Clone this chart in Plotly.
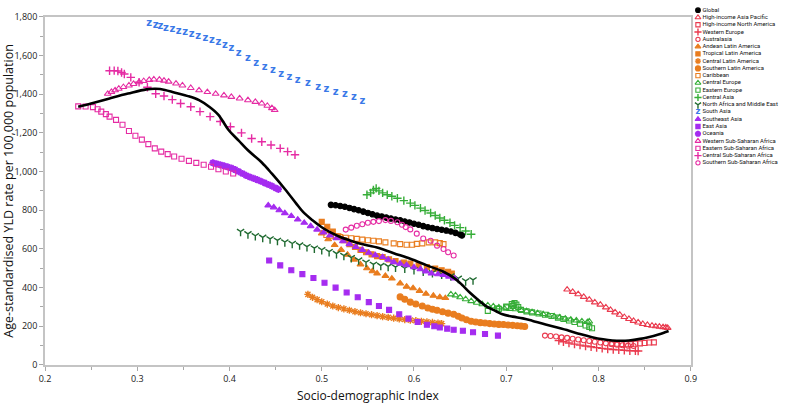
import plotly.graph_objects as go

# ---------------- data ----------------
legend_names = [
    "Global", "High-income Asia Pacific", "High-income North America", "Western Europe",
    "Australasia", "Andean Latin America", "Tropical Latin America", "Central Latin America",
    "Southern Latin America", "Caribbean", "Central Europe", "Eastern Europe", "Central Asia",
    "North Africa and Middle East", "South Asia", "Southeast Asia", "East Asia", "Oceania",
    "Western Sub-Saharan Africa", "Eastern Sub-Saharan Africa", "Central Sub-Saharan Africa",
    "Southern Sub-Saharan Africa",
]

global_sdi = [0.510, 0.515, 0.520, 0.525, 0.530, 0.535, 0.540, 0.545, 0.550, 0.555, 0.560, 0.565, 0.570,
              0.575, 0.580, 0.585, 0.590, 0.595, 0.600, 0.605, 0.610, 0.615, 0.620, 0.625, 0.630, 0.635,
              0.640, 0.645, 0.650, 0.652]
global_rate = [828, 826, 822, 818, 812, 806, 800, 793, 786, 779, 772, 768, 762, 757, 752, 748, 742, 737,
               730, 725, 718, 712, 708, 703, 699, 695, 690, 683, 675, 670]

hiap_sdi = [0.766, 0.772, 0.778, 0.784, 0.790, 0.796, 0.802, 0.808, 0.813, 0.818, 0.823, 0.828, 0.833,
            0.838, 0.843, 0.848, 0.853, 0.858, 0.862, 0.866, 0.870, 0.873, 0.875]
hiap_rate = [390, 378, 366, 352, 338, 324, 312, 298, 285, 272, 260, 248, 238, 228, 220, 212, 207, 203,
             200, 198, 196, 194, 192]

hina_sdi = [0.815, 0.820, 0.825, 0.830, 0.835, 0.840, 0.845, 0.850, 0.855, 0.860]
hina_rate = [112, 110, 108, 107, 108, 110, 112, 114, 116, 117]

weur_sdi = [0.757, 0.762, 0.768, 0.774, 0.780, 0.786, 0.792, 0.798, 0.804, 0.810, 0.816, 0.822, 0.828,
            0.834, 0.840, 0.843]
weur_rate = [126, 120, 114, 108, 103, 98, 94, 90, 86, 83, 80, 78, 76, 74, 73, 72]

austral_sdi = [0.742, 0.748, 0.754, 0.760, 0.766, 0.772, 0.778, 0.784, 0.790, 0.796, 0.802, 0.808,
               0.814, 0.820, 0.826, 0.832, 0.838]
austral_rate = [152, 150, 147, 143, 140, 136, 132, 128, 124, 120, 116, 112, 108, 105, 102, 100, 98]

andean_sdi = [0.500, 0.507, 0.514, 0.521, 0.528, 0.535, 0.542, 0.549, 0.555, 0.560, 0.569, 0.576, 0.585,
              0.592, 0.599, 0.606, 0.613, 0.621, 0.628, 0.634]
andean_rate = [680, 650, 620, 595, 570, 545, 520, 500, 485, 473, 461, 447, 422, 405, 397, 383, 368, 358,
               351, 346]

tropical_sdi = [0.500, 0.506, 0.512, 0.518, 0.524, 0.530, 0.536, 0.542, 0.548, 0.554, 0.560, 0.566, 0.573,
                0.580, 0.589, 0.596, 0.605, 0.614, 0.623, 0.630, 0.637, 0.641]
tropical_rate = [740, 715, 690, 665, 645, 625, 610, 595, 583, 572, 563, 558, 546, 537, 529, 524, 515, 507,
                 498, 490, 482, 473]

central_la_sdi = [0.485, 0.490, 0.495, 0.500, 0.506, 0.512, 0.518, 0.524, 0.530, 0.536, 0.542, 0.548,
                  0.554, 0.560, 0.566, 0.572, 0.578, 0.584, 0.590, 0.596, 0.602, 0.608, 0.614, 0.620,
                  0.626, 0.630]
central_la_rate = [365, 350, 338, 327, 315, 305, 297, 290, 283, 276, 270, 265, 260, 255, 250, 246, 242,
                   238, 235, 232, 229, 226, 223, 220, 217, 214]

southern_la_sdi = [0.585, 0.590, 0.596, 0.602, 0.609, 0.615, 0.620, 0.625, 0.631, 0.637, 0.643, 0.648,
                   0.652, 0.657, 0.662, 0.667, 0.672, 0.677, 0.682, 0.687, 0.692, 0.697, 0.702, 0.707,
                   0.712, 0.716, 0.720]
southern_la_rate = [352, 340, 325, 315, 305, 295, 288, 283, 275, 268, 262, 252, 243, 234, 226, 222, 219,
                    217, 214, 212, 210, 209, 207, 205, 203, 201, 199]

caribbean_sdi = [0.505, 0.510, 0.515, 0.520, 0.526, 0.532, 0.538, 0.544, 0.550, 0.556, 0.562, 0.569,
                 0.578, 0.585, 0.592, 0.598, 0.603, 0.609, 0.616, 0.623, 0.628, 0.632]
caribbean_rate = [672, 668, 665, 662, 658, 655, 652, 648, 645, 642, 639, 634, 629, 625, 622, 622, 626,
                  629, 634, 634, 630, 625]

ceur_sdi = [0.640, 0.645, 0.650, 0.656, 0.662, 0.668, 0.674, 0.680, 0.686, 0.692, 0.698, 0.704, 0.710,
            0.716, 0.722, 0.728, 0.734, 0.740, 0.746, 0.752, 0.758, 0.764, 0.770, 0.776, 0.782, 0.788,
            0.790]
ceur_rate = [365, 360, 350, 340, 330, 322, 314, 308, 303, 298, 292, 290, 288, 284, 278, 273, 268, 263,
             257, 251, 246, 240, 235, 230, 226, 222, 225]

eeur_sdi = [0.706, 0.709, 0.711, 0.707, 0.700, 0.692, 0.680, 0.690, 0.700, 0.708, 0.713, 0.716, 0.722,
            0.728, 0.735, 0.742, 0.749, 0.756, 0.762, 0.768, 0.774, 0.780, 0.786, 0.790, 0.793]
eeur_rate = [315, 320, 312, 305, 298, 290, 280, 292, 302, 308, 300, 285, 277, 272, 266, 260, 253, 245,
             238, 230, 222, 213, 204, 197, 190]

casia_sdi = [0.549, 0.553, 0.556, 0.559, 0.562, 0.566, 0.571, 0.576, 0.582, 0.589, 0.596, 0.601, 0.607,
             0.612, 0.618, 0.623, 0.628, 0.633, 0.639, 0.644, 0.650, 0.656, 0.662]
casia_rate = [880, 890, 905, 913, 900, 890, 880, 872, 862, 850, 837, 825, 811, 799, 786, 773, 760, 748,
              735, 722, 710, 693, 676]

name_sdi = [0.412, 0.420, 0.428, 0.436, 0.444, 0.452, 0.460, 0.468, 0.476, 0.484, 0.492, 0.500, 0.508,
            0.516, 0.524, 0.532, 0.540, 0.548, 0.556, 0.564, 0.572, 0.580, 0.590, 0.600, 0.610, 0.620,
            0.630, 0.640, 0.648, 0.656, 0.664]
name_rate = [690, 678, 668, 660, 652, 644, 636, 628, 620, 612, 604, 596, 586, 576, 566, 555, 543, 531,
             520, 514, 510, 506, 500, 493, 485, 477, 470, 460, 448, 435, 440]

sasia_sdi = [0.313, 0.320, 0.325, 0.331, 0.338, 0.345, 0.352, 0.359, 0.366, 0.374, 0.381, 0.388, 0.395,
             0.402, 0.410, 0.420, 0.429, 0.438, 0.447, 0.456, 0.465, 0.474, 0.485, 0.496, 0.505, 0.515,
             0.525, 0.535, 0.544]
sasia_rate = [1766, 1757, 1748, 1740, 1732, 1725, 1718, 1710, 1700, 1690, 1680, 1666, 1652, 1638, 1610,
              1585, 1560, 1538, 1520, 1504, 1487, 1470, 1453, 1436, 1423, 1411, 1396, 1381, 1360]

seasia_sdi = [0.442, 0.448, 0.454, 0.460, 0.467, 0.474, 0.481, 0.488, 0.495, 0.502, 0.509, 0.516, 0.523,
              0.530, 0.537, 0.544, 0.551, 0.558, 0.566, 0.572, 0.578, 0.585, 0.592, 0.600, 0.607, 0.613,
              0.619, 0.626, 0.632, 0.638, 0.644]
seasia_rate = [825, 815, 800, 785, 770, 752, 735, 718, 700, 685, 670, 655, 640, 625, 610, 595, 580, 568,
               558, 545, 532, 524, 516, 505, 495, 484, 473, 469, 465, 457, 448]

easia_sdi = [0.443, 0.455, 0.467, 0.479, 0.491, 0.503, 0.515, 0.527, 0.539, 0.551, 0.562, 0.573, 0.584,
             0.594, 0.604, 0.614, 0.622, 0.628, 0.636, 0.643, 0.653, 0.664, 0.677, 0.691]
easia_rate = [540, 515, 490, 470, 450, 425, 400, 375, 350, 325, 305, 285, 262, 240, 222, 208, 200, 194,
              188, 182, 177, 169, 160, 152]

oceania_sdi = [0.382, 0.386, 0.390, 0.394, 0.398, 0.402, 0.406, 0.410, 0.414, 0.418, 0.422, 0.426, 0.430,
               0.434, 0.438, 0.442, 0.446, 0.450, 0.453]
oceania_rate = [1045, 1040, 1035, 1030, 1024, 1018, 1010, 1000, 990, 980, 972, 965, 958, 950, 942, 933,
                925, 915, 908]

wssa_sdi = [0.268, 0.272, 0.276, 0.280, 0.285, 0.291, 0.296, 0.302, 0.307, 0.313, 0.318, 0.324, 0.329,
            0.334, 0.342, 0.349, 0.358, 0.367, 0.376, 0.385, 0.394, 0.402, 0.411, 0.420, 0.428, 0.435,
            0.441, 0.446, 0.449]
wssa_rate = [1402, 1412, 1420, 1428, 1437, 1445, 1453, 1462, 1468, 1474, 1476, 1475, 1470, 1465, 1455,
             1445, 1432, 1420, 1411, 1402, 1394, 1386, 1378, 1369, 1360, 1352, 1340, 1328, 1318]

essa_sdi = [0.236, 0.244, 0.252, 0.257, 0.261, 0.266, 0.270, 0.277, 0.284, 0.291, 0.298, 0.305, 0.312,
            0.319, 0.326, 0.333, 0.340, 0.348, 0.356, 0.364, 0.372, 0.380, 0.388, 0.396, 0.404]
essa_rate = [1337, 1336, 1333, 1322, 1310, 1297, 1284, 1267, 1242, 1210, 1185, 1165, 1142, 1120, 1103,
             1090, 1078, 1066, 1055, 1045, 1035, 1025, 1012, 1000, 990]

cssa_sdi = [0.270, 0.275, 0.279, 0.283, 0.286, 0.293, 0.302, 0.311, 0.320, 0.329, 0.338, 0.347, 0.358,
            0.368, 0.379, 0.390, 0.401, 0.413, 0.424, 0.435, 0.445, 0.455, 0.463, 0.471]
cssa_rate = [1521, 1522, 1520, 1512, 1504, 1487, 1462, 1436, 1402, 1391, 1372, 1352, 1335, 1310, 1284,
             1259, 1232, 1200, 1171, 1154, 1137, 1120, 1103, 1087]

sssa_sdi = [0.526, 0.532, 0.538, 0.544, 0.550, 0.556, 0.562, 0.569, 0.575, 0.582, 0.587, 0.591, 0.596,
            0.603, 0.610, 0.618, 0.625, 0.632, 0.637, 0.643]
sssa_rate = [700, 710, 720, 728, 735, 740, 744, 749, 745, 738, 725, 713, 701, 679, 654, 642, 617, 600,
             583, 566]

expected_sdi = [0.236, 0.250, 0.270, 0.290, 0.310, 0.320, 0.330, 0.341, 0.355, 0.367, 0.378, 0.388, 0.399,
                0.410, 0.420, 0.435, 0.446, 0.460, 0.472, 0.480, 0.490, 0.500, 0.510, 0.520, 0.530, 0.540,
                0.550, 0.560, 0.578, 0.596, 0.614, 0.632, 0.644, 0.652, 0.661, 0.670, 0.678, 0.689, 0.696,
                0.707, 0.718, 0.728, 0.739, 0.750, 0.768, 0.780, 0.793, 0.805, 0.815, 0.825, 0.833, 0.845,
                0.854, 0.865, 0.872, 0.876]
expected_rate = [1335, 1352, 1378, 1403, 1425, 1428, 1422, 1407, 1390, 1369, 1335, 1293, 1215, 1160, 1110,
                 1047, 989, 910, 837, 790, 748, 712, 684, 662, 645, 630, 618, 608, 578, 549, 515, 482,
                 448, 415, 372, 335, 304, 278, 262, 250, 241, 229, 214, 200, 177, 160, 144, 133, 127, 125,
                 127, 135, 144, 158, 169, 176]

x_tick_vals = [0.2, 0.3, 0.4, 0.5, 0.6, 0.7, 0.8, 0.9]
y_tick_vals = [0, 200, 400, 600, 800, 1000, 1200, 1400, 1600, 1800]

series_values = {
    "Global": (global_sdi, global_rate),
    "High-income Asia Pacific": (hiap_sdi, hiap_rate),
    "High-income North America": (hina_sdi, hina_rate),
    "Western Europe": (weur_sdi, weur_rate),
    "Australasia": (austral_sdi, austral_rate),
    "Andean Latin America": (andean_sdi, andean_rate),
    "Tropical Latin America": (tropical_sdi, tropical_rate),
    "Central Latin America": (central_la_sdi, central_la_rate),
    "Southern Latin America": (southern_la_sdi, southern_la_rate),
    "Caribbean": (caribbean_sdi, caribbean_rate),
    "Central Europe": (ceur_sdi, ceur_rate),
    "Eastern Europe": (eeur_sdi, eeur_rate),
    "Central Asia": (casia_sdi, casia_rate),
    "North Africa and Middle East": (name_sdi, name_rate),
    "South Asia": (sasia_sdi, sasia_rate),
    "Southeast Asia": (seasia_sdi, seasia_rate),
    "East Asia": (easia_sdi, easia_rate),
    "Oceania": (oceania_sdi, oceania_rate),
    "Western Sub-Saharan Africa": (wssa_sdi, wssa_rate),
    "Eastern Sub-Saharan Africa": (essa_sdi, essa_rate),
    "Central Sub-Saharan Africa": (cssa_sdi, cssa_rate),
    "Southern Sub-Saharan Africa": (sssa_sdi, sssa_rate),
}

# ---------------- styles ----------------
RED = "#ea3a4e"
ORANGE = "#e97d1f"
GREEN = "#35ad37"
DKGREEN = "#1f6a30"
BLUE = "#3a79e8"
PURPLE = "#a52cf0"
MAGENTA = "#e52ba3"

styles = {
    "Global": ("circle", "#000000", 5.5),
    "High-income Asia Pacific": ("triangle-up-open", RED, 6),
    "High-income North America": ("square-open", RED, 5),
    "Western Europe": ("cross-thin-open", RED, 6),
    "Australasia": ("circle-open", RED, 5),
    "Andean Latin America": ("triangle-up", ORANGE, 6),
    "Tropical Latin America": ("square", ORANGE, 5),
    "Central Latin America": ("asterisk-open", ORANGE, 6),
    "Southern Latin America": ("circle", ORANGE, 6),
    "Caribbean": ("square-open", ORANGE, 5),
    "Central Europe": ("triangle-up-open", GREEN, 6),
    "Eastern Europe": ("square-open", GREEN, 5),
    "Central Asia": ("cross-thin-open", GREEN, 6),
    "North Africa and Middle East": ("y-down-open", DKGREEN, 6),
    "South Asia": ("text", BLUE, 10),
    "Southeast Asia": ("triangle-up", PURPLE, 6),
    "East Asia": ("square", PURPLE, 5),
    "Oceania": ("asterisk-open", PURPLE, 6),
    "Western Sub-Saharan Africa": ("triangle-up-open", MAGENTA, 6),
    "Eastern Sub-Saharan Africa": ("square-open", MAGENTA, 5),
    "Central Sub-Saharan Africa": ("cross-thin-open", MAGENTA, 6),
    "Southern Sub-Saharan Africa": ("circle-open", MAGENTA, 5),
}

FONT = "Open Sans"
fig = go.Figure()


def add_points(name, xs, ys, xaxis="x", yaxis="y", scale=1.0):
    sym, col, size = styles[name]
    if sym == "text":
        fig.add_trace(go.Scatter(
            x=xs, y=ys, mode="text", text=["z"] * len(xs), textposition="middle center",
            textfont=dict(family="DejaVu Sans", size=size * scale, color=col, weight="bold"),
            xaxis=xaxis, yaxis=yaxis, showlegend=False, hoverinfo="skip", cliponaxis=False))
        return
    width = 1.4 if sym in ("asterisk-open", "cross-thin-open", "y-down-open") else 1.1
    if name == "Oceania":
        width = 2.0
    fig.add_trace(go.Scatter(
        x=xs, y=ys, mode="markers", name=name,
        marker=dict(symbol=sym, size=size * scale, color=col, line=dict(color=col, width=width)),
        xaxis=xaxis, yaxis=yaxis, showlegend=False, cliponaxis=False))


for nm in legend_names:
    xs, ys = series_values[nm]
    add_points(nm, xs, ys)

fig.add_trace(go.Scatter(
    x=expected_sdi, y=expected_rate, mode="lines",
    line=dict(color="#000000", width=2.6, shape="spline", smoothing=1.0),
    showlegend=False, hoverinfo="skip"))

# ---------------- custom compact legend ----------------
rows = list(range(len(legend_names)))
for i, nm in enumerate(legend_names):
    add_points(nm, [0], [i], xaxis="x2", yaxis="y2", scale=0.85)
fig.add_trace(go.Scatter(
    x=[4.5] * len(legend_names), y=rows, mode="text", text=legend_names,
    textposition="middle right", textfont=dict(family="Roboto", size=5.9, color="#111111"),
    xaxis="x2", yaxis="y2", showlegend=False, hoverinfo="skip", cliponaxis=False))

W, H = 787, 405
ML, MB = 45, 40
plot_right = 696
plot_top = 10
paper_w = W - ML
paper_h = H - MB
x_dom_end = (plot_right - ML) / paper_w
y_dom_end = (paper_h - plot_top) / paper_h

axis_common = dict(
    showgrid=False, zeroline=False, showline=True, linecolor="#c4c4c4", linewidth=1.6, mirror=True,
    ticks="outside", ticklen=4, tickcolor="#a8a8a8", tickwidth=1,
    tickfont=dict(family=FONT, size=9, color="#222222"),
)

fig.update_layout(
    width=W, height=H,
    margin=dict(l=ML, r=0, t=0, b=MB, pad=0),
    plot_bgcolor="white", paper_bgcolor="white",
    showlegend=False,
    xaxis=dict(
        domain=[0, x_dom_end], range=[0.2, 0.9], tickvals=x_tick_vals, tickformat=".1f",
        minor=dict(ticks="outside", ticklen=3, dtick=0.05, tickcolor="#a8a8a8"),
        title=dict(text="Socio-demographic Index", font=dict(family=FONT, size=12, color="#111111"),
                   standoff=8),
        **axis_common),
    yaxis=dict(
        domain=[0, y_dom_end], range=[0, 1800], tickvals=y_tick_vals, tickformat=",",
        minor=dict(ticks="outside", ticklen=3, dtick=100, tickcolor="#a8a8a8"),
        title=dict(text="Age-standardised YLD rate per 100,000 population",
                   font=dict(family=FONT, size=12.5, color="#111111"), standoff=5),
        **axis_common),
    xaxis2=dict(domain=[x_dom_end, 1], range=[-7.3, 83.7], visible=False, anchor="y2", fixedrange=True),
    yaxis2=dict(domain=[0, 1], range=[48.81, -0.445], visible=False, anchor="x2", fixedrange=True),
)

fig.write_html("out.html", config={"displayModeBar": False},
               post_script="document.body.style.margin='0px';")
